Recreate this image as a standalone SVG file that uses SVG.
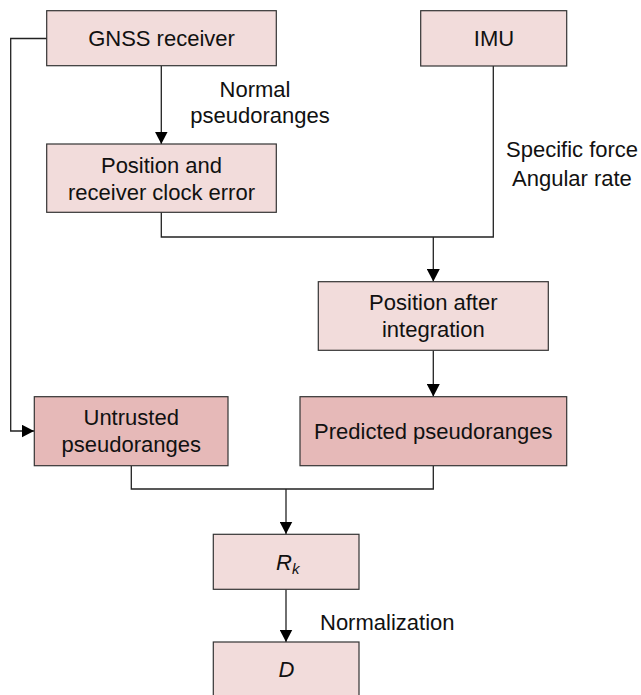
<svg xmlns="http://www.w3.org/2000/svg" width="641" height="695" viewBox="0 0 641 695">
<style>
.box{stroke:#333;stroke-width:1.2}
.light{fill:#F2DCDB}
.dark{fill:#E6B9B8}
text{font-family:"Liberation Sans",Arial,sans-serif;font-size:22px;fill:#111}
.c{text-anchor:middle}
.ln{fill:none;stroke:#222;stroke-width:1.3}
</style>
<defs>
<marker id="ah" markerUnits="userSpaceOnUse" markerWidth="13" markerHeight="13" refX="12.5" refY="6.5" orient="auto">
<path d="M0,0 L12.5,6.5 L0,13 z" fill="#000"/>
</marker>
</defs>
<rect width="641" height="695" fill="#fff"/>
<g id="connectors">
<path class="ln" d="M47,38.5 H10.7 V431 H34" marker-end="url(#ah)"/>
<path class="ln" d="M161.3,66 V144" marker-end="url(#ah)"/>
<path class="ln" d="M161.3,212 V237 H493.3 V66"/>
<path class="ln" d="M433.3,237 V281.5" marker-end="url(#ah)"/>
<path class="ln" d="M433.3,350.5 V396.5" marker-end="url(#ah)"/>
<path class="ln" d="M131.3,466 V489 H433.3 V466"/>
<path class="ln" d="M286,489 V534" marker-end="url(#ah)"/>
<path class="ln" d="M286,589.5 V642" marker-end="url(#ah)"/>
<text x="255" y="96.7" class="c">Normal</text>
<text x="260" y="123.4" class="c">pseudoranges</text>
<text x="506" y="157">Specific force</text>
<text x="512" y="186">Angular rate</text>
<text x="320" y="630">Normalization</text>
</g>
<g id="gnss">
<rect class="box light" x="46.7" y="10.7" width="229.6" height="55"/>
<text x="161.5" y="46" class="c">GNSS receiver</text>
</g>
<g id="imu">
<rect class="box light" x="420.7" y="10.7" width="146" height="55.3"/>
<text x="494" y="46" class="c">IMU</text>
</g>
<g id="position-clock">
<rect class="box light" x="46.7" y="144" width="229.6" height="68.3"/>
<text x="161.5" y="173.3" class="c">Position and</text>
<text x="161.5" y="200" class="c">receiver clock error</text>
</g>
<g id="position-integration">
<rect class="box light" x="318.3" y="281.7" width="230" height="68.6"/>
<text x="433.3" y="310" class="c">Position after</text>
<text x="433.3" y="336.7" class="c">integration</text>
</g>
<g id="untrusted">
<rect class="box dark" x="34.3" y="396.7" width="193.7" height="69"/>
<text x="131.2" y="425" class="c">Untrusted</text>
<text x="131.2" y="451.7" class="c">pseudoranges</text>
</g>
<g id="predicted">
<rect class="box dark" x="300" y="396.7" width="266.7" height="69"/>
<text x="433.3" y="439" class="c">Predicted pseudoranges</text>
</g>
<g id="rk">
<rect class="box light" x="213.3" y="534.3" width="145.7" height="55"/>
<text x="276" y="570" font-style="italic">R<tspan font-size="15" dy="4">k</tspan></text>
</g>
<g id="d">
<rect class="box light" x="213.3" y="642" width="145.7" height="56"/>
<text x="278.5" y="677.3" font-style="italic">D</text>
</g>
</svg>
